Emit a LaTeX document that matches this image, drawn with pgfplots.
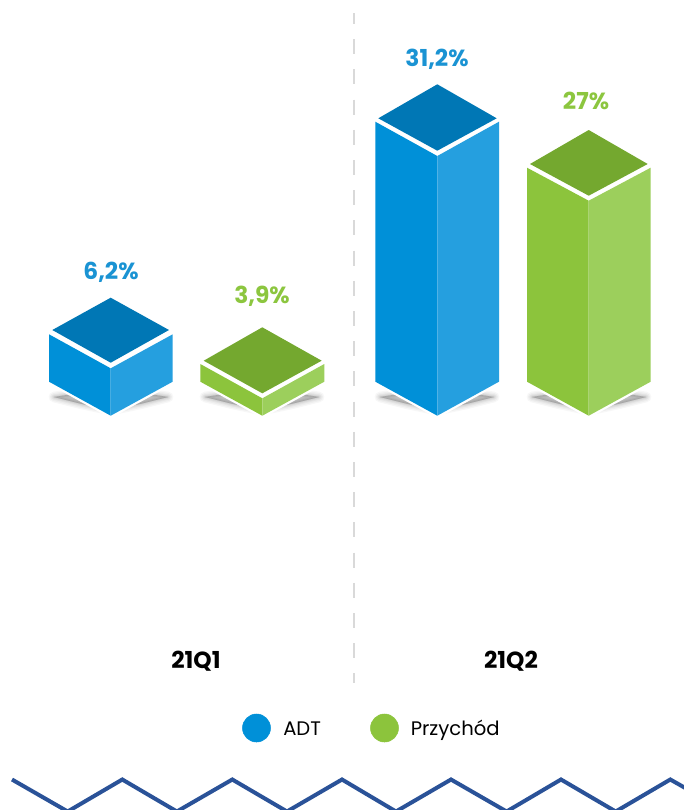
\documentclass[border=0pt]{standalone}
\usepackage{fontspec}
\setmainfont{Poppins}
\usepackage{pgfplots}
\pgfplotsset{compat=1.18}
\definecolor{bluedark}{HTML}{0077B5}
\definecolor{blueleft}{HTML}{0090D8}
\definecolor{blueright}{HTML}{259FDF}
\definecolor{greendark}{HTML}{74A82F}
\definecolor{greenleft}{HTML}{8CC43C}
\definecolor{greenright}{HTML}{9CCF5C}
\definecolor{bluetext}{HTML}{1A93D3}
\definecolor{greentext}{HTML}{8CC63F}
\definecolor{zigzag}{HTML}{2A5298}
% soft shadow: same polygon stroked several times
\newcommand{\softshadow}[1]{%
  \addplot[fill=black,draw=black,line join=round,opacity=.03,line width=8pt] coordinates {#1} --cycle;
  \addplot[fill=black,draw=black,line join=round,opacity=.035,line width=6pt] coordinates {#1} --cycle;
  \addplot[fill=black,draw=black,line join=round,opacity=.04,line width=4pt] coordinates {#1} --cycle;
  \addplot[fill=black,draw=black,line join=round,opacity=.045,line width=2.5pt] coordinates {#1} --cycle;
  \addplot[fill=black,draw=black,line join=round,opacity=.05,line width=1pt] coordinates {#1} --cycle;
}
% white halo behind a bar
\newcommand{\whitehull}[1]{%
  \addplot[fill=white,draw=white,line width=3pt,line join=round] coordinates {#1} --cycle;
}
\begin{document}
\begin{tikzpicture}
\begin{axis}[
    scale only axis,
    width=513pt, height=607.5pt,
    xmin=0, xmax=684,
    ymin=0, ymax=810,
    y dir=reverse,
    axis lines=none,
    clip=true,
    every axis plot/.append style={forget plot},
]
\addplot[fill=white,draw=none] coordinates {(0,0)(684,0)(684,810)(0,810)} --cycle;

% divider
\addplot[color=black!15,line width=1.5pt,dash pattern=on 11.25pt off 11.4pt,dash phase=3pt] coordinates {(353.5,13)(353.5,683)};

% shadows
\softshadow{(54,397)(82,404)(111,410)(140,404)(168,397)(111,388)}
\softshadow{(205,397)(233,404)(262,410)(291,404)(319,397)(262,388)}
\softshadow{(380,397)(408,404)(437,410)(466,404)(494,397)(437,388)}
\softshadow{(532,397)(560,404)(589,410)(618,404)(646,397)(589,388)}
\whitehull{(49,334)(110.7,298)(172.7,334)(172.7,382)(110.7,416)(49,382)}
\whitehull{(200.3,364)(262.3,328)(324.3,364)(324.3,382)(262.3,416)(200.3,382)}
\whitehull{(375.3,122)(437.3,85)(499,122)(499,382)(437.3,416)(375.3,382)}
\whitehull{(527,168)(588.7,131)(650.7,168)(650.7,382)(588.7,416)(527,382)}

% 21Q1 ADT 6,2%
\addplot[fill=blueleft,draw=none] coordinates {(49,334.3)(110.7,368.3)(110.7,415.7)(49,381.7)} --cycle;
\addplot[fill=blueright,draw=none] coordinates {(172.7,334.3)(110.7,368.3)(110.7,415.7)(172.7,381.7)} --cycle;
\addplot[fill=bluedark,draw=none] coordinates {(110.7,297.7)(169,330)(110.7,362.7)(52.3,330)} --cycle;

% 21Q1 Przychod 3,9%
\addplot[fill=greenleft,draw=none] coordinates {(200.3,364)(262.3,398.3)(262.3,415.7)(200.3,381.7)} --cycle;
\addplot[fill=greenright,draw=none] coordinates {(324.3,364)(262.3,398.3)(262.3,415.7)(324.3,381.7)} --cycle;
\addplot[fill=greendark,draw=none] coordinates {(262.3,327.3)(321.7,360.7)(262.3,393.3)(203.7,360.7)} --cycle;

% 21Q2 ADT 31,2%
\addplot[fill=blueleft,draw=none] coordinates {(375.3,121.7)(437.3,156)(437.3,415.7)(375.3,381.7)} --cycle;
\addplot[fill=blueright,draw=none] coordinates {(499,121.7)(437.3,156)(437.3,415.7)(499,381.7)} --cycle;
\addplot[fill=bluedark,draw=none] coordinates {(437.3,84.3)(496.7,118.3)(437.3,150.7)(378.3,118.3)} --cycle;

% 21Q2 Przychod 27%
\addplot[fill=greenleft,draw=none] coordinates {(527,167.7)(588.7,200.7)(588.7,415.7)(527,381.7)} --cycle;
\addplot[fill=greenright,draw=none] coordinates {(650.7,167.7)(588.7,200.7)(588.7,415.7)(650.7,381.7)} --cycle;
\addplot[fill=greendark,draw=none] coordinates {(588.7,130)(647.7,164)(588.7,195.7)(530,164)} --cycle;

% value labels
\node[bluetext,font=\fontsize{17.5}{17.5}\selectfont\bfseries,anchor=base] at (axis cs:111,279.5) {6,2\%};
\node[greentext,font=\fontsize{17.5}{17.5}\selectfont\bfseries,anchor=base] at (axis cs:262,303.5) {3,9\%};
\node[bluetext,font=\fontsize{17.5}{17.5}\selectfont\bfseries,anchor=base] at (axis cs:437,66.5) {31,2\%};
\node[greentext,font=\fontsize{17.5}{17.5}\selectfont\bfseries,anchor=base] at (axis cs:586,109.5) {27\%};

% categories
\node[black,font=\fontsize{17.5}{17.5}\selectfont\bfseries,anchor=base] at (axis cs:196,668) {21Q1};
\node[black,font=\fontsize{17.5}{17.5}\selectfont\bfseries,anchor=base] at (axis cs:511,668) {21Q2};

% legend
\addplot[only marks,mark=*,mark size=10.5pt,mark options={draw=blueleft,fill=blueleft}] coordinates {(256.5,728)};
\addplot[only marks,mark=*,mark size=10.5pt,mark options={draw=greenleft,fill=greenleft}] coordinates {(384.5,728)};
\node[black,font=\fontsize{14.7}{15}\selectfont,anchor=base west,inner sep=0pt] at (axis cs:283,735) {ADT};
\node[black,font=\fontsize{14.7}{15}\selectfont,anchor=base west,inner sep=0pt] at (axis cs:410.5,735) {Przychód};

% zigzag
\addplot[color=zigzag,line width=3pt,line join=miter] coordinates {
  (12,779.5)(67.7,811.5)(122.3,779.5)(176.9,811.5)(232.3,779.5)(287,811.5)(342,779.5)(396,811.5)(451,779.5)(506.6,811.5)(561,779.5)(615.7,811.5)(670.3,779.5)(695,793.5)};
\end{axis}
\pgfresetboundingbox
\path (0,0) rectangle (513pt,607.5pt);
\end{tikzpicture}
\end{document}
